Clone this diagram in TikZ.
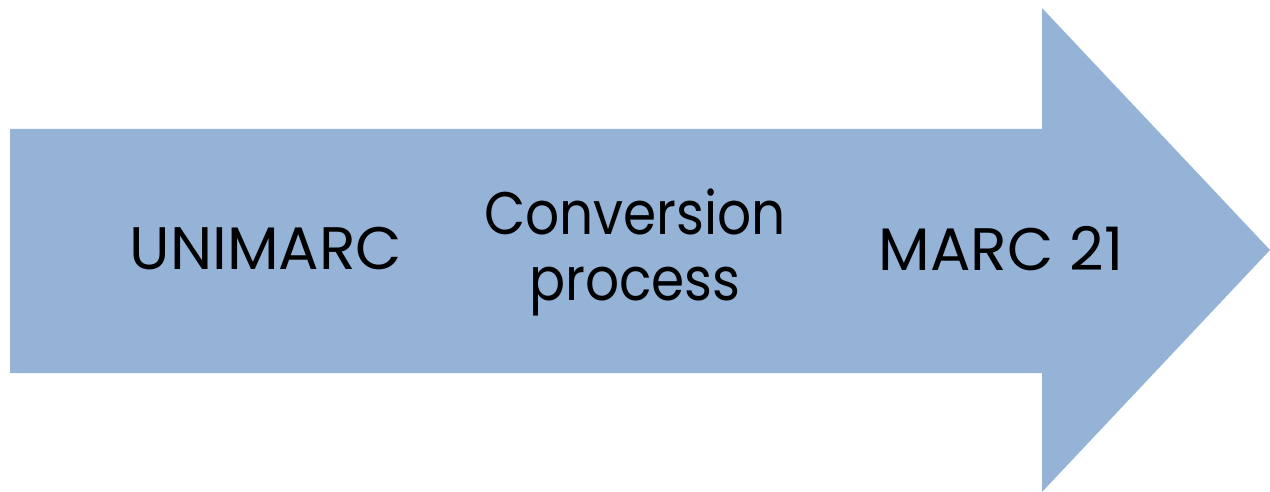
\documentclass[tikz,border=0pt]{standalone}
\usepackage{fontspec}
\setmainfont{Poppins}
\definecolor{arrowblue}{HTML}{95B3D7}
\begin{document}
\begin{tikzpicture}[x=1pt,y=-1pt,
  lbl/.style={text=black,font=\fontsize{60}{66}\selectfont,align=center,inner sep=0pt}]
\useasboundingbox (0,0) rectangle (1270,492);
\fill[arrowblue] (10,129) -- (1042,129) -- (1042,8) -- (1270,250) -- (1042,492) -- (1042,373) -- (10,373) -- cycle;
\node[lbl] (a) at (266,249) {UNIMARC};
\node[lbl] (c) at (1001,249) {MARC 21};
\node[lbl,xscale=0.89,transform shape] (b) at (635,252) {Conversion\\process};
\end{tikzpicture}
\end{document}
